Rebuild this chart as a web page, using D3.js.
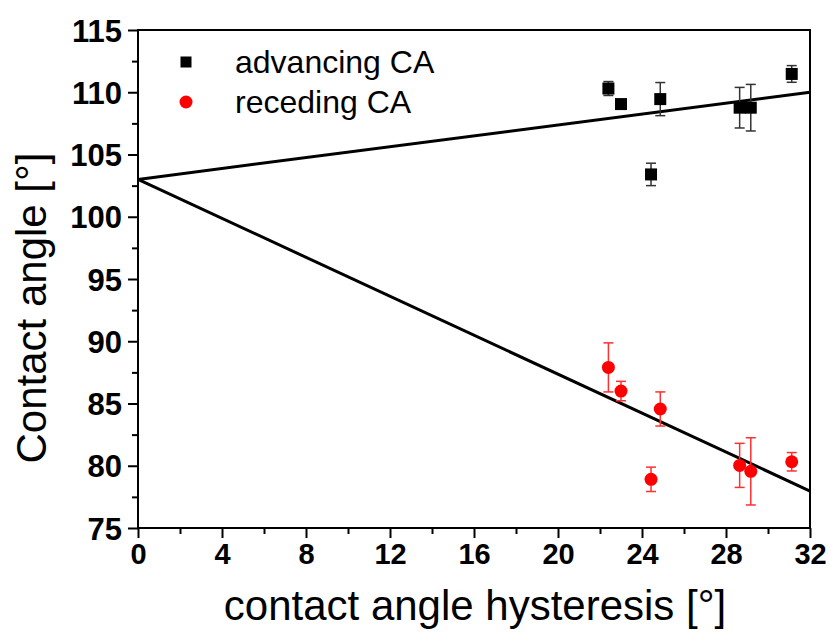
<!DOCTYPE html>
<html>
<head>
<meta charset="utf-8">
<script src="https://cdn.jsdelivr.net/npm/d3@7"></script>
<style>
  body { margin: 0; background: #fff; }
  svg { display: block; font-family: "Liberation Sans", Arial, sans-serif; }
</style>
</head>
<body>
<div id="chart"></div>
<script>
// hysteresis [deg] for each sample
const hysteresis = [22.4, 23.0, 24.87, 24.43, 28.65, 29.18, 31.13];

// advancing contact angle and its error
const advancing    = [110.3, 109.05, 109.45, 103.4, 108.76, 108.76, 111.47];
const advancingErr = [0.56, 0.0, 1.33, 0.9, 1.63, 1.87, 0.67];

// receding contact angle and its error
const receding    = [87.9, 86.0, 84.56, 78.91, 80.03, 79.55, 80.32];
const recedingErr = [1.97, 0.78, 1.37, 0.98, 1.77, 2.7, 0.74];

// linear fit lines (x, y)
const advancingFit = [[0, 103.0], [32, 110.0]];
const recedingFit  = [[0, 103.0], [32, 77.97]];

const xTicks = [0, 4, 8, 12, 16, 20, 24, 28, 32];
const yTicks = [75, 80, 85, 90, 95, 100, 105, 110, 115];
const legendLabels = ['advancing CA', 'receding CA'];

const width = 829, height = 633;
const margin = {top: 30, right: 19, bottom: 105, left: 138};

const svg = d3.select('#chart').append('svg')
              .attr('width', width)
              .attr('height', height);

svg.append('rect').attr('width', width).attr('height', height).attr('fill', '#fff');

const x = d3.scaleLinear()
            .domain([0, 32])
            .range([margin.left, width - margin.right]);

const y = d3.scaleLinear()
            .domain([75, 115])
            .range([height - margin.bottom, margin.top]);

// minor ticks
const xMinor = d3.range(2, 32, 4);
const yMinor = d3.range(77.5, 115, 5);

svg.append('g')
   .attr('transform', 'translate(0,' + y(75) + ')')
   .call(d3.axisBottom(x).tickValues(xMinor).tickSize(6).tickFormat(''))
   .call(g => g.select('.domain').remove())
   .selectAll('line').attr('stroke-width', 2);

svg.append('g')
   .attr('transform', 'translate(' + x(0) + ',0)')
   .call(d3.axisLeft(y).tickValues(yMinor).tickSize(6).tickFormat(''))
   .call(g => g.select('.domain').remove())
   .selectAll('line').attr('stroke-width', 2);

// major ticks + labels
const xAxis = svg.append('g')
                 .attr('transform', 'translate(0,' + y(75) + ')')
                 .call(d3.axisBottom(x).tickValues(xTicks).tickSize(10).tickPadding(5).tickFormat(d3.format('d')));
xAxis.select('.domain').remove();
xAxis.selectAll('line').attr('stroke-width', 2);
xAxis.selectAll('text')
     .attr('font-size', 29)
     .attr('font-weight', 'bold')
     .attr('font-family', '"Liberation Sans", Arial, sans-serif')
     .attr('fill', '#000');

const yAxis = svg.append('g')
                 .attr('transform', 'translate(' + x(0) + ',0)')
                 .call(d3.axisLeft(y).tickValues(yTicks).tickSize(10).tickPadding(6).tickFormat(d3.format('d')));
yAxis.select('.domain').remove();
yAxis.selectAll('line').attr('stroke-width', 2);
yAxis.selectAll('text')
     .attr('font-size', 31)
     .attr('font-weight', 'bold')
     .attr('font-family', '"Liberation Sans", Arial, sans-serif')
     .attr('fill', '#000')
     .attr('dy', '0.36em');

// frame
svg.append('rect')
   .attr('x', x(0))
   .attr('y', y(115))
   .attr('width', x(32) - x(0))
   .attr('height', y(75) - y(115))
   .attr('fill', 'none')
   .attr('stroke', '#000')
   .attr('stroke-width', 2);

// fit lines
const line = d3.line().x(d => x(d[0])).y(d => y(d[1]));

svg.append('path')
   .datum(advancingFit)
   .attr('d', line)
   .attr('fill', 'none')
   .attr('stroke', '#000')
   .attr('stroke-width', 3);

svg.append('path')
   .datum(recedingFit)
   .attr('d', line)
   .attr('fill', 'none')
   .attr('stroke', '#000')
   .attr('stroke-width', 3);

// error bars
function drawErrors(values, errors, color, width) {
  const g = svg.append('g').attr('stroke', color).attr('stroke-width', width);
  values.forEach((v, i) => {
    const e = errors[i];
    if (!e) { return; }
    const cx = x(hysteresis[i]);
    g.append('line').attr('x1', cx).attr('x2', cx).attr('y1', y(v - e)).attr('y2', y(v + e));
    g.append('line').attr('x1', cx - 5).attr('x2', cx + 5).attr('y1', y(v - e)).attr('y2', y(v - e));
    g.append('line').attr('x1', cx - 5).attr('x2', cx + 5).attr('y1', y(v + e)).attr('y2', y(v + e));
  });
}

drawErrors(advancing, advancingErr, '#333', 1.5);
drawErrors(receding, recedingErr, '#ff3030', 1.5);

// points
svg.append('g').selectAll('rect')
   .data(advancing)
   .enter().append('rect')
   .attr('x', (d, i) => x(hysteresis[i]) - 6)
   .attr('y', d => y(d) - 6)
   .attr('width', 12)
   .attr('height', 12)
   .attr('fill', '#000');

svg.append('g').selectAll('circle')
   .data(receding)
   .enter().append('circle')
   .attr('cx', (d, i) => x(hysteresis[i]))
   .attr('cy', d => y(d))
   .attr('r', 6.5)
   .attr('fill', '#ff0000');

// legend
const legend = svg.append('g');
legend.append('rect')
      .attr('x', 180.5).attr('y', 56.5)
      .attr('width', 11).attr('height', 11)
      .attr('fill', '#000');
legend.append('circle')
      .attr('cx', 186).attr('cy', 102)
      .attr('r', 6.5)
      .attr('fill', '#ff0000');
legend.selectAll('text')
      .data(legendLabels)
      .enter().append('text')
      .attr('x', 235)
      .attr('y', (d, i) => 73 + i * 40)
      .attr('font-size', 32)
      .attr('fill', '#000')
      .text(d => d);

// axis titles
svg.append('text')
   .attr('x', (x(0) + x(32)) / 2 + 1)
   .attr('y', 620)
   .attr('text-anchor', 'middle')
   .attr('font-size', 42)
   .attr('fill', '#000')
   .text('contact angle hysteresis [°]');

svg.append('text')
   .attr('transform', 'translate(46,' + 308 + ') rotate(-90)')
   .attr('text-anchor', 'middle')
   .attr('font-size', 42)
   .attr('fill', '#000')
   .text('Contact angle [°]');
</script>
</body>
</html>
